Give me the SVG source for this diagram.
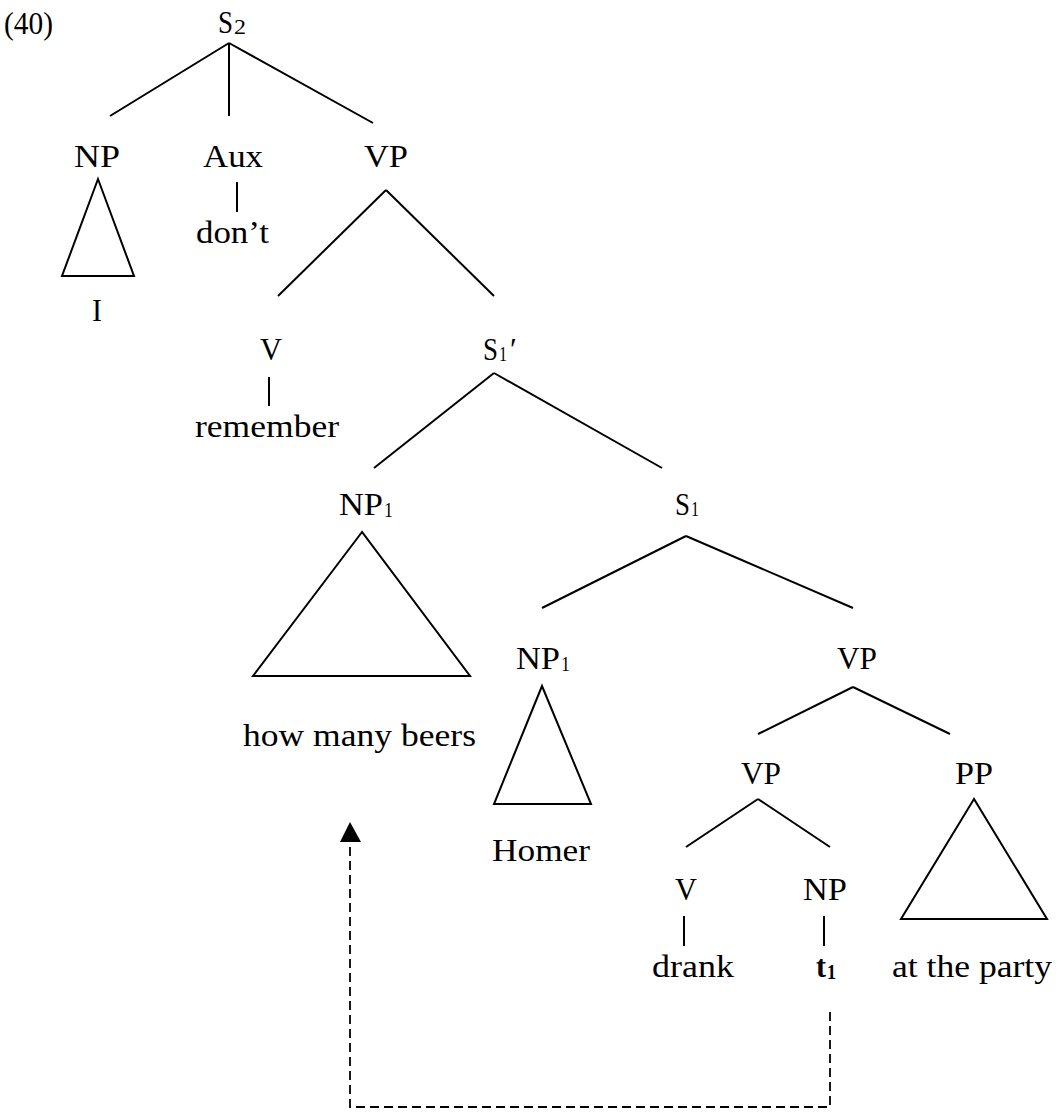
<svg xmlns="http://www.w3.org/2000/svg" width="1061" height="1120" viewBox="0 0 1061 1120">
<style>
text{font-family:"Liberation Serif","Times New Roman",serif;font-size:31px;fill:#000}
.sub{font-size:21px}
.e{stroke:#000;stroke-width:2;fill:none;stroke-linecap:butt}
.tri{stroke:#000;stroke-width:2;fill:none;stroke-linejoin:miter}
.dash{stroke:#000;stroke-width:1.8;fill:none;stroke-dasharray:9 5}
</style>
<rect width="1061" height="1120" fill="#fff"/>
<text id="ex-num" x="4" y="34" textLength="49" lengthAdjust="spacingAndGlyphs">(40)</text>

<g id="connectors">
  <line class="e" x1="229" y1="43" x2="110" y2="116"/>
  <line class="e" x1="229" y1="43" x2="229" y2="116"/>
  <line class="e" x1="229" y1="43" x2="373" y2="123"/>
  <line class="e" x1="237" y1="182" x2="237" y2="212"/>
  <line class="e" x1="386" y1="190" x2="278" y2="296"/>
  <line class="e" x1="386" y1="190" x2="494" y2="296"/>
  <line class="e" x1="269" y1="377" x2="269" y2="406"/>
  <line class="e" x1="494" y1="373" x2="374" y2="468"/>
  <line class="e" x1="494" y1="373" x2="662" y2="468"/>
  <line class="e" x1="686" y1="536" x2="542" y2="608"/>
  <line class="e" x1="686" y1="536" x2="853" y2="608"/>
  <line class="e" x1="853" y1="687" x2="758" y2="734"/>
  <line class="e" x1="853" y1="687" x2="950" y2="734"/>
  <line class="e" x1="758" y1="799" x2="686" y2="847"/>
  <line class="e" x1="758" y1="799" x2="830" y2="847"/>
  <line class="e" x1="684" y1="916" x2="684" y2="946"/>
  <line class="e" x1="824" y1="916" x2="824" y2="946"/>
  <polygon class="tri" points="98,179 62,276 134,276"/>
  <polygon class="tri" points="362,532 253,676 470,676"/>
  <polygon class="tri" points="542,686 494,804 591,804"/>
  <polygon class="tri" points="974,799 901,919 1047,919"/>
  <path class="dash" d="M830,1012 V1107 H350 V842"/>
  <polygon points="350,822 340,842 361,842" fill="#000"/>
</g>

<g id="S2"><text x="218" y="33" textLength="15" lengthAdjust="spacingAndGlyphs">S</text><text class="sub" x="234" y="34" textLength="12" lengthAdjust="spacingAndGlyphs">2</text></g>
<g id="NP-top"><text x="74" y="167" textLength="46" lengthAdjust="spacingAndGlyphs">NP</text></g>
<g id="I"><text x="92" y="321" textLength="10" lengthAdjust="spacingAndGlyphs">I</text></g>
<g id="Aux"><text x="203" y="167" textLength="60" lengthAdjust="spacingAndGlyphs">Aux</text></g>
<g id="dont"><text x="196" y="243" textLength="73" lengthAdjust="spacingAndGlyphs">don’t</text></g>
<g id="VP-top"><text x="364" y="167" textLength="44" lengthAdjust="spacingAndGlyphs">VP</text></g>
<g id="V-top"><text x="260" y="360" textLength="22" lengthAdjust="spacingAndGlyphs">V</text></g>
<g id="remember"><text x="195" y="437" textLength="144" lengthAdjust="spacingAndGlyphs">remember</text></g>
<g id="S1prime"><text x="483" y="360" textLength="15" lengthAdjust="spacingAndGlyphs">S</text><text class="sub" x="499" y="361" textLength="8" lengthAdjust="spacingAndGlyphs">1</text><text x="510" y="360">′</text></g>
<g id="NP1-a"><text x="339" y="515" textLength="44" lengthAdjust="spacingAndGlyphs">NP</text><text class="sub" x="384" y="517" textLength="9" lengthAdjust="spacingAndGlyphs">1</text></g>
<g id="how-many-beers"><text x="243" y="746" textLength="233" lengthAdjust="spacingAndGlyphs">how many beers</text></g>
<g id="S1"><text x="675" y="515" textLength="15" lengthAdjust="spacingAndGlyphs">S</text><text class="sub" x="691" y="516" textLength="8" lengthAdjust="spacingAndGlyphs">1</text></g>
<g id="NP1-b"><text x="516" y="669" textLength="44" lengthAdjust="spacingAndGlyphs">NP</text><text class="sub" x="561" y="671" textLength="9" lengthAdjust="spacingAndGlyphs">1</text></g>
<g id="Homer"><text x="492" y="861" textLength="98" lengthAdjust="spacingAndGlyphs">Homer</text></g>
<g id="VP-right"><text x="837" y="669" textLength="40" lengthAdjust="spacingAndGlyphs">VP</text></g>
<g id="VP-mid"><text x="741" y="784" textLength="40" lengthAdjust="spacingAndGlyphs">VP</text></g>
<g id="PP"><text x="955" y="784" textLength="38" lengthAdjust="spacingAndGlyphs">PP</text></g>
<g id="V-low"><text x="675" y="900" textLength="22" lengthAdjust="spacingAndGlyphs">V</text></g>
<g id="NP-low"><text x="803" y="900" textLength="44" lengthAdjust="spacingAndGlyphs">NP</text></g>
<g id="drank"><text x="652" y="977" textLength="82" lengthAdjust="spacingAndGlyphs">drank</text></g>
<g id="t1"><text x="816" y="977" font-weight="bold" textLength="10" lengthAdjust="spacingAndGlyphs">t</text><text class="sub" x="827" y="979" font-weight="bold" textLength="9" lengthAdjust="spacingAndGlyphs">1</text></g>
<g id="at-the-party"><text x="892" y="977" textLength="160" lengthAdjust="spacingAndGlyphs">at the party</text></g>
</svg>
